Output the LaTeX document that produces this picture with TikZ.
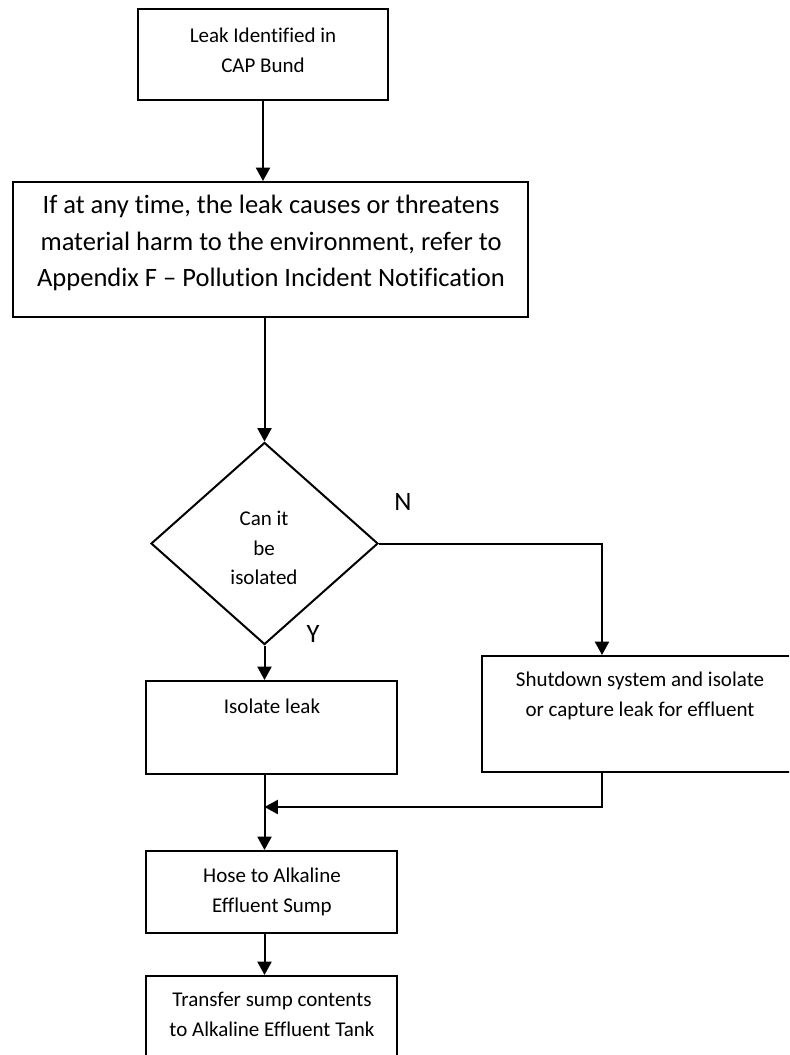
\documentclass[tikz,border=0pt]{standalone}
\usepackage{fontspec}
\setmainfont{Carlito}[Ligatures={TeX,NoCommon}]
\usetikzlibrary{arrows.meta,shapes.geometric,calc,fit}
\begin{document}
\begin{tikzpicture}[x=0.75pt,y=-0.75pt,
  line width=1.5pt,
  box/.style={draw, line width=1.5pt, rectangle, inner sep=0pt},
  txt/.style={align=center, inner sep=0pt, font=\fontsize{15.75}{22.3}\selectfont},
  bigtxt/.style={align=center, inner sep=0pt, font=\fontsize{19.9}{27.4}\selectfont},
  arr/.style={-{Triangle[width=10.5pt,length=10pt]}, line width=1.5pt}]
\useasboundingbox (0,0) rectangle (789,1055);
\clip (0,0) rectangle (789,1055);

% boxes
\node[box, fit={(138,9) (388,100)}] (b1) {};
\node[box, fit={(13,182) (528,317)}] (b2) {};
\node[draw, diamond, line width=1.5pt, inner sep=0pt,
      minimum width=170.25pt, minimum height=151.5pt] (d) at (264.5,543.5) {};
\node[box, fit={(146,681) (397,774)}] (b3) {};
\node[box, fit={(482,656) (798,772)}] (b4) {};
\node[box, fit={(146,851) (397,933)}] (b5) {};
\node[box, fit={(146,976) (397,1075)}] (b6) {};

% texts
\node[txt] (t1) at (263,50) {Leak Identified in\\CAP Bund};
\node[bigtxt] (t2) at (271,243) {If at any time, the leak causes or threatens\\material harm to the environment, refer to\\Appendix F – Pollution Incident Notification};
\node[txt] (td) at (264,548) {Can it\\be\\isolated};
\node[bigtxt] (tn) at (403,502) {N};
\node[bigtxt] (ty) at (313,634) {Y};
\node[txt] (t3) at (272,706) {Isolate leak};
\node[txt] (t4) at (640,696) {Shutdown system and isolate\\or capture leak for effluent};
\node[txt] (t5) at (272,892) {Hose to Alkaline\\Effluent Sump};
\node[txt] (t6) at (272,1014) {Transfer sump contents\\to Alkaline Effluent Tank};

% connectors
\coordinate (b4in) at ($(b4.north west)+(121,0)$);
\coordinate (m) at (264.5,807);
\draw[arr] (b1.south) -- (b1.south |- b2.north);
\draw[arr] (b2.south -| d.north) -- (d.north);
\draw[arr] (d.south) -- (d.south |- b3.north);
\draw[arr] (d.east) -| (b4in);
\draw[arr] (b4in |- b4.south) |- (m);
\draw[arr] (b3.south -| d.south) -- (b5.north -| d.south);
\draw[arr] (b5.south -| d.south) -- (b6.north -| d.south);
\end{tikzpicture}
\end{document}
